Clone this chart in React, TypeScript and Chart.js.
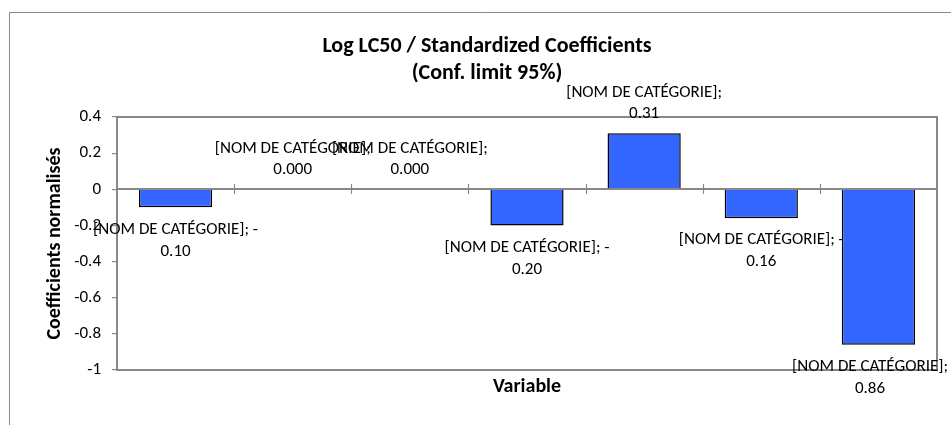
import React, { useEffect, useRef } from "react";
import { Chart, registerables } from "chart.js";

Chart.register(...registerables);

const categories = [
  "[NOM DE CATÉGORIE]",
  "[NOM DE CATÉGORIE]",
  "[NOM DE CATÉGORIE]",
  "[NOM DE CATÉGORIE]",
  "[NOM DE CATÉGORIE]",
  "[NOM DE CATÉGORIE]",
  "[NOM DE CATÉGORIE]",
];
const coefficients = [-0.1, 0.0, 0.0, -0.2, 0.31, -0.16, -0.86];
const labelLine1 = [
  "[NOM DE CATÉGORIE]; -",
  "[NOM DE CATÉGORIE];",
  "[NOM DE CATÉGORIE];",
  "[NOM DE CATÉGORIE]; -",
  "[NOM DE CATÉGORIE];",
  "[NOM DE CATÉGORIE]; -",
  "[NOM DE CATÉGORIE];",
];
const labelLine2 = ["0.10", "0.000", "0.000", "0.20", "0.31", "0.16", "0.86"];
const titleLines = ["Log LC50 / Standardized Coefficients", "(Conf. limit 95%)"];
const yTitle = "Coefficients normalisés";
const xTitle = "Variable";
const yMin = -1;
const yMax = 0.4;
const yStep = 0.2;

const FONT = "Carlito, Calibri, Lato, 'Open Sans', sans-serif";
const GRAY = "#888888";

const decorPlugin = {
  id: "decor",
  beforeDraw(chart: any) {
    const ctx = chart.ctx;
    ctx.save();
    ctx.strokeStyle = GRAY;
    ctx.lineWidth = 1;
    ctx.beginPath();
    ctx.moveTo(9.5, chart.height + 5);
    ctx.lineTo(9.5, 12.5);
    ctx.lineTo(chart.width + 5, 12.5);
    ctx.stroke();
    ctx.fillStyle = "#000";
    ctx.font = `bold 22px ${FONT}`;
    ctx.textAlign = "center";
    ctx.textBaseline = "middle";
    ctx.fillText(titleLines[0], 487, 46);
    ctx.fillText(titleLines[1], 487, 73);
    ctx.restore();
  },
  afterDatasetsDraw(chart: any) {
    const ctx = chart.ctx;
    const { left, right, top, bottom } = chart.chartArea;
    const x = chart.scales.x;
    const y = chart.scales.y;
    const y0 = Math.round(y.getPixelForValue(0));
    ctx.save();
    ctx.strokeStyle = GRAY;
    ctx.lineWidth = 2;
    ctx.strokeRect(left, top, right - left, bottom - top);
    ctx.beginPath();
    ctx.moveTo(left, y0);
    ctx.lineTo(right, y0);
    ctx.stroke();
    ctx.lineWidth = 1.2;
    const n = categories.length;
    for (let i = 1; i < n; i++) {
      const px = Math.round((x.getPixelForValue(i - 1) + x.getPixelForValue(i)) / 2) + 0.5;
      ctx.beginPath();
      ctx.moveTo(px, y0 - 5);
      ctx.lineTo(px, y0 + 5);
      ctx.stroke();
    }
    ctx.restore();
  },
  afterDraw(chart: any) {
    const ctx = chart.ctx;
    const meta = chart.getDatasetMeta(0);
    ctx.save();
    ctx.fillStyle = "#000";
    ctx.font = `17px ${FONT}`;
    ctx.textAlign = "center";
    ctx.textBaseline = "middle";
    meta.data.forEach((bar: any, i: number) => {
      const v = coefficients[i];
      const w = Math.max(ctx.measureText(labelLine1[i]).width, ctx.measureText(labelLine2[i]).width);
      let cx = bar.x;
      if (cx + w / 2 > chart.width - 3) cx = chart.width - 3 - w / 2;
      if (v >= 0) {
        ctx.fillText(labelLine1[i], cx, bar.y - 41);
        ctx.fillText(labelLine2[i], cx, bar.y - 20);
      } else {
        ctx.fillText(labelLine1[i], cx, bar.y + 22);
        ctx.fillText(labelLine2[i], cx, bar.y + 44);
      }
    });
    ctx.restore();
  },
};

export default function App() {
  const ref = useRef<HTMLCanvasElement | null>(null);
  useEffect(() => {
    document.body.style.margin = "0";
    const canvas = ref.current!;
    const chart = new Chart(canvas, {
      type: "bar",
      data: {
        labels: categories,
        datasets: [
          {
            data: coefficients,
            backgroundColor: "#3366FF",
            borderColor: "#000000",
            borderWidth: 1.5,
            categoryPercentage: 1,
            barPercentage: 0.625,
          },
        ],
      },
      options: {
        animation: false,
        responsive: false,
        maintainAspectRatio: false,
        layout: { padding: { left: 0, right: 14, top: 117, bottom: 0 } },
        plugins: {
          legend: { display: false },
          tooltip: { enabled: false },
          title: { display: false },
        },
        scales: {
          x: {
            type: "category",
            ticks: { display: false },
            grid: { display: false },
            border: { display: false },
            title: {
              display: true,
              text: xTitle,
              color: "#000",
              font: { family: FONT, size: 20, weight: "bold" },
              padding: { top: 0, bottom: 26 },
            },
            afterFit(scale: any) {
              scale.height = 55;
            },
          },
          y: {
            min: yMin,
            max: yMax,
            ticks: {
              stepSize: yStep,
              color: "#000",
              padding: 11,
              font: { family: FONT, size: 17 },
              callback: (v: any) => {
                const n = Math.round(Number(v) * 10) / 10;
                return String(Math.abs(n) < 1e-9 ? 0 : n);
              },
            },
            grid: {
              display: true,
              drawOnChartArea: false,
              drawTicks: true,
              tickLength: 5,
              color: GRAY,
              lineWidth: 1.2,
            },
            border: { display: false },
            title: {
              display: true,
              text: yTitle,
              color: "#000",
              font: { family: FONT, size: 20, weight: "bold" },
              padding: { top: 43, bottom: 0 },
            },
            afterFit(scale: any) {
              scale.width = 117;
            },
          },
        },
      },
      plugins: [decorPlugin],
    } as any);
    return () => chart.destroy();
  }, []);
  return <canvas ref={ref} width={951} height={425} style={{ display: "block" }} />;
}
